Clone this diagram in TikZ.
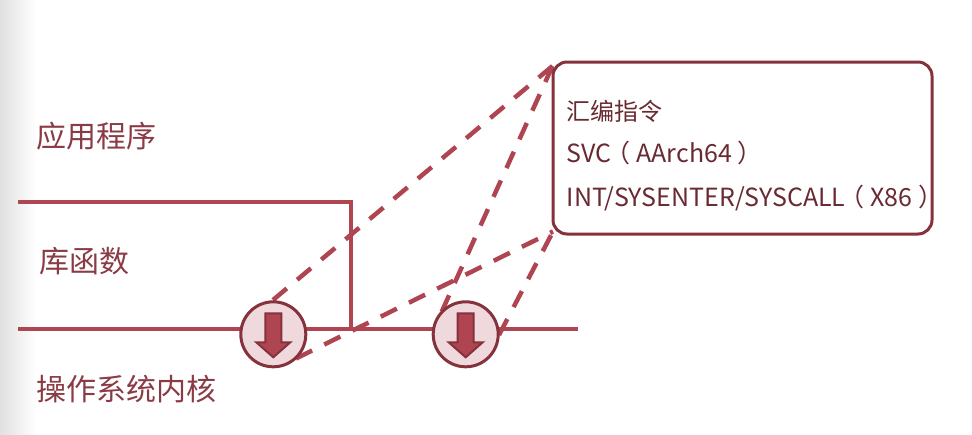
\documentclass[tikz,border=0pt]{standalone}
\usepackage{fontspec}
\setmainfont{Noto Sans CJK SC}
\definecolor{linered}{HTML}{B04552}
\definecolor{edgered}{HTML}{85323C}
\definecolor{fillpink}{HTML}{EFD9DD}
\definecolor{labelred}{HTML}{8A3B45}
\definecolor{boxtext}{HTML}{6A2A32}
\newcommand{\lp}{\kern-6pt（\kern6pt}
\newcommand{\rp}{\kern6pt）\kern-5pt}
\tikzset{
  layerline/.style={draw=linered,line width=4pt},
  dashlink/.style={draw=linered,line width=4.5pt,dash pattern=on 18pt off 13.5pt},
  gatecircle/.style={circle,draw=edgered,line width=3pt,fill=fillpink,minimum size=65pt,inner sep=0pt},
  downarrow/.style={draw=edgered,line width=2pt,fill=linered,line join=miter},
  layerlabel/.style={text=labelred,font=\fontsize{30pt}{30pt}\selectfont,anchor=base west,inner sep=0pt},
  boxlabel/.style={text=boxtext,font=\fontsize{24pt}{24pt}\selectfont,anchor=base west,inner sep=0pt},
  latinlabel/.style={boxlabel,font=\fontsize{25pt}{25pt}\selectfont},
  infobox/.style={draw=edgered,line width=3pt,rounded corners=14pt,fill=white,minimum width=379pt,minimum height=172pt,inner sep=0pt}
}
\begin{document}
\begin{tikzpicture}[x=1pt,y=-1pt]
\useasboundingbox (0,0) rectangle (972,434);
\shade[left color=black!12,right color=white] (0,0) rectangle (36,434);
% layer lines
\coordinate (topL) at (18,201.5);
\coordinate (corner) at (351,201.5);
\coordinate (botJ) at (351,328.5);
\coordinate (botL) at (18,328.5);
\coordinate (botR) at (578,328.5);
\draw[layerline,line join=miter] (topL) -- (corner) -- (botJ);
\draw[layerline] (botL) -- (botR);
% labels
\node[layerlabel] (app) at (36.5,147) {应用程序};
\node[layerlabel] (lib) at (39.5,272) {库函数};
\node[layerlabel] (kern) at (36.5,400) {操作系统内核};
% dashed links
\coordinate (boxTop) at (552.5,66);
\coordinate (boxBot) at (553,231.5);
\coordinate (a1) at (273,300);
\coordinate (a2) at (296,358.5);
\coordinate (b1) at (441.7,311.7);
\coordinate (b2) at (499,335);
\draw[dashlink] (a1) -- (boxTop);
\draw[dashlink] (a2) -- (boxBot);
\draw[dashlink] (b1) -- (boxTop);
\draw[dashlink] (b2) -- (boxBot);
% gates
\node[gatecircle] (g1) at (273.3,334.3) {};
\node[gatecircle] (g2) at (465.7,334.3) {};
\foreach \c in {g1,g2}{
  \draw[downarrow] ([shift={(-8,-21)}]\c.center) -- ++(16,0) -- ++(0,29) -- ++(9,0) -- ++(-17,15) -- ++(-17,-15) -- ++(9,0) -- cycle;
}
% box
\node[infobox] (box) at (742.5,148) {};
\node[boxlabel] (t1) at (566.5,120) {汇编指令};
\node[latinlabel] (t2) at (566.5,162) {SVC\lp AArch64\rp};
\node[latinlabel] (t3) at (566.5,206) {INT/SYSENTER/SYSCALL\lp X86\rp};
\end{tikzpicture}
\end{document}
